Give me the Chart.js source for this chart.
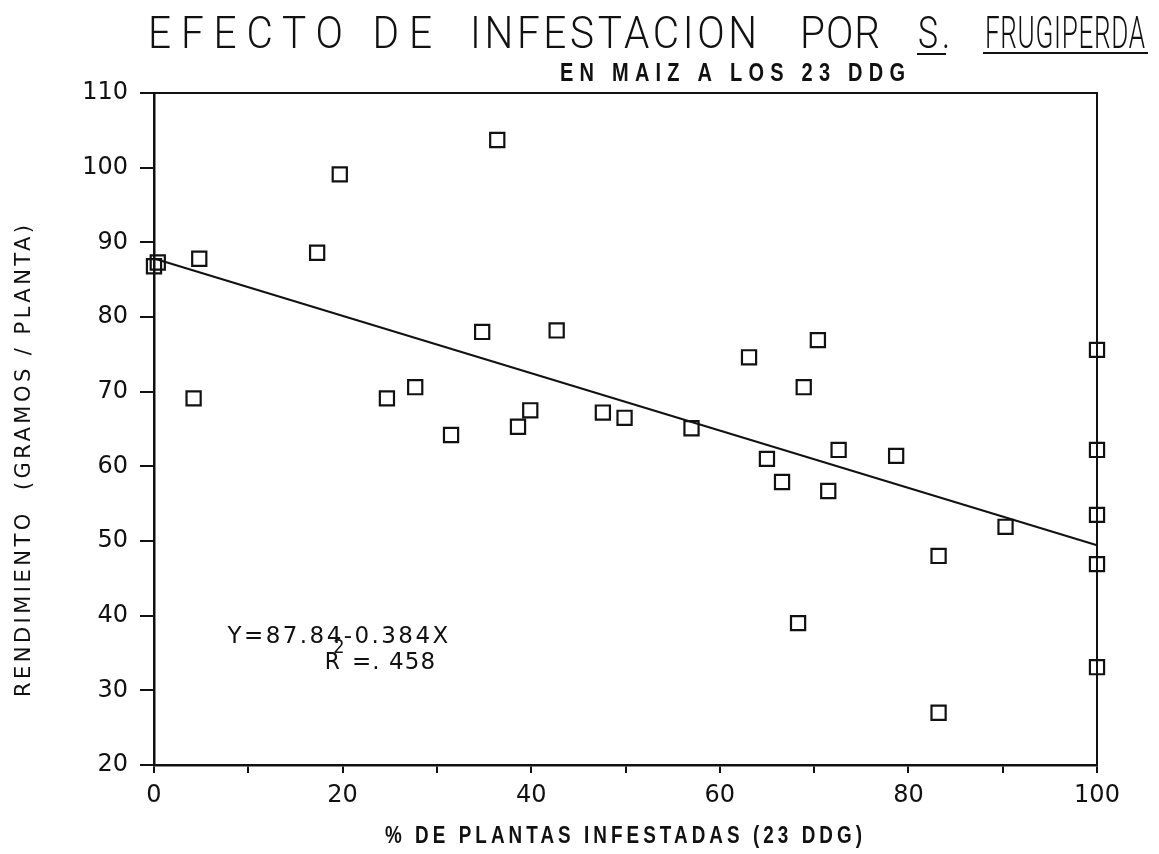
<!DOCTYPE html>
<html>
<head>
<meta charset="utf-8">
<script src="https://cdn.jsdelivr.net/npm/chart.js@4.4.1/dist/chart.umd.min.js"></script>
<style>
  html, body { margin: 0; padding: 0; background: #fff; }
  #wrap { width: 1159px; height: 854px; }
</style>
</head>
<body>
<div id="wrap"><canvas id="canvas_frugiperda" width="1159" height="854"></canvas></div>
<script>
// % de plantas infestadas (x) y rendimiento en g/planta (y)
var pctInfestadas = [0, 0.4, 4.8, 4.2, 17.3, 19.7, 36.4, 24.7, 27.7, 31.5, 34.8, 42.7, 38.6, 39.9, 47.6, 49.9,
                     57.0, 63.1, 70.4, 68.9, 65.0, 72.6, 66.6, 71.5, 78.7, 90.3, 83.2, 68.3, 83.2,
                     100, 100, 100, 100, 100];
var rendimiento   = [86.8, 87.3, 87.8, 69.1, 88.6, 99.1, 103.7, 69.1, 70.6, 64.2, 78.0, 78.2, 65.3, 67.5, 67.2, 66.5,
                     65.1, 74.6, 76.9, 70.6, 61.0, 62.2, 57.9, 56.7, 61.4, 51.9, 48.0, 39.0, 27.0,
                     75.6, 62.2, 53.5, 46.9, 33.1];

// recta de regresion Y = 87.84 - 0.384X (extremos)
var regX = [0, 100];
var regY = [87.84, 49.44];

var xTicks = [0, 20, 40, 60, 80, 100];
var yTicks = [20, 30, 40, 50, 60, 70, 80, 90, 100, 110];

var puntos = pctInfestadas.map(function (v, i) { return { x: v, y: rendimiento[i] }; });
var recta = regX.map(function (v, i) { return { x: v, y: regY[i] }; });

// escribe un texto entre dos bordes; k = estrechamiento de las letras
function fitText(ctx, text, left, right, baseline, font, k) {
    k = k || 1;
    ctx.save();
    ctx.font = font;
    ctx.letterSpacing = '0px';
    var w = ctx.measureText(text).width;
    var target = (right - left) / k;
    ctx.textAlign = 'left';
    ctx.textBaseline = 'alphabetic';
    ctx.translate(left, baseline);
    ctx.scale(k, 1);
    if (target > w && text.length > 1) {
        ctx.letterSpacing = ((target - w) / (text.length - 1)) + 'px';
    } else {
        ctx.scale(target / w, 1);
    }
    ctx.fillText(text, 0, 0);
    ctx.restore();
}

var decor = {
    id: 'decor',
    afterDraw: function (chart) {
        var ctx = chart.ctx, a = chart.chartArea;
        var sx = chart.scales.x, sy = chart.scales.y;
        ctx.save();
        ctx.fillStyle = '#111';
        ctx.strokeStyle = '#111';

        // marco superior y derecho
        ctx.lineWidth = 2;
        ctx.beginPath();
        ctx.moveTo(a.left, a.top);
        ctx.lineTo(a.right, a.top);
        ctx.lineTo(a.right, a.bottom);
        ctx.stroke();

        // titulo
        var tf = '300 45px Roboto, "DejaVu Sans", sans-serif';
        fitText(ctx, 'EFECTO DE', 148, 432, 48, tf, 0.9);
        fitText(ctx, 'INFESTACION', 470, 757, 48, tf, 0.9);
        fitText(ctx, 'POR', 800, 880, 48, tf, 0.9);
        fitText(ctx, 'S.', 918, 950, 48, tf, 0.75);
        fitText(ctx, 'FRUGIPERDA', 985, 1145, 48, tf, 0.58);
        ctx.lineWidth = 2;
        ctx.beginPath();
        ctx.moveTo(917, 54); ctx.lineTo(946, 54);
        ctx.moveTo(983, 53); ctx.lineTo(1148, 53);
        ctx.stroke();

        // subtitulo
        fitText(ctx, 'EN MAIZ A LOS 23 DDG', 560, 905, 81, 'bold 25px "Liberation Sans", sans-serif', 0.8);

        // titulo eje x
        fitText(ctx, '% DE PLANTAS INFESTADAS (23 DDG)', 385, 862, 843, 'bold 23px "Liberation Sans", sans-serif', 0.82);

        // titulo eje y
        ctx.save();
        ctx.translate(30, 697);
        ctx.rotate(-Math.PI / 2);
        fitText(ctx, 'RENDIMIENTO  (GRAMOS / PLANTA)', 0, 472, 0, '21px "DejaVu Sans", sans-serif', 1);
        ctx.restore();

        // ecuacion
        var ef = '23px "DejaVu Sans", sans-serif';
        fitText(ctx, 'Y=87.84-0.384X', sx.getPixelForValue(7.8), sx.getPixelForValue(31.2), sy.getPixelForValue(36.4), ef);
        fitText(ctx, 'R', sx.getPixelForValue(18.1), sx.getPixelForValue(19.7), sy.getPixelForValue(32.8), ef);
        fitText(ctx, '2', sx.getPixelForValue(19.0), sx.getPixelForValue(20.2), sy.getPixelForValue(35.0), '20px "DejaVu Sans", sans-serif');
        fitText(ctx, '=. 458', sx.getPixelForValue(21.0), sx.getPixelForValue(29.8), sy.getPixelForValue(32.8), ef);
        ctx.restore();
    }
};

var ctx = document.getElementById('canvas_frugiperda');
var myChart = new Chart(ctx, {
    type: 'scatter',
    data: {
        datasets: [
            {
                label: 'Observado',
                data: puntos,
                pointStyle: 'rect',
                pointRadius: 10,
                pointHoverRadius: 10,
                pointBorderWidth: 2.2,
                borderColor: '#111',
                backgroundColor: 'rgba(0,0,0,0)',
                clip: false
            },
            {
                label: 'Regresion',
                type: 'line',
                data: recta,
                borderColor: '#111',
                borderWidth: 2,
                pointRadius: 0,
                fill: false,
                clip: false
            }
        ]
    },
    options: {
        responsive: false,
        animation: false,
        events: [],
        layout: { padding: { top: 93, right: 62, left: 0, bottom: 0 } },
        plugins: {
            legend: { display: false },
            tooltip: { enabled: false },
            title: { display: false }
        },
        scales: {
            x: {
                type: 'linear',
                min: 0,
                max: 100,
                afterFit: function (s) { s.height = 89; },
                afterBuildTicks: function (s) {
                    s.ticks = [];
                    for (var v = 0; v <= 100; v += 10) s.ticks.push({ value: v });
                },
                ticks: {
                    autoSkip: false,
                    maxRotation: 0,
                    padding: 8,
                    color: '#111',
                    font: { family: '"DejaVu Sans", sans-serif', size: 24 },
                    callback: function (v) { return xTicks.indexOf(v) >= 0 ? String(v) : ''; }
                },
                grid: { drawOnChartArea: false, drawTicks: true, tickLength: 8, color: '#111', lineWidth: 2 },
                border: { display: true, color: '#111', width: 2.5 }
            },
            y: {
                type: 'linear',
                min: 20,
                max: 110,
                afterFit: function (s) { s.width = 154; },
                afterBuildTicks: function (s) {
                    s.ticks = yTicks.map(function (v) { return { value: v }; });
                },
                ticks: {
                    padding: 12,
                    color: '#111',
                    font: { family: '"DejaVu Sans", sans-serif', size: 24 }
                },
                grid: { drawOnChartArea: false, drawTicks: true, tickLength: 14, color: '#111', lineWidth: 2 },
                border: { display: true, color: '#111', width: 2.5 }
            }
        }
    },
    plugins: [decor]
});
</script>
</body>
</html>
